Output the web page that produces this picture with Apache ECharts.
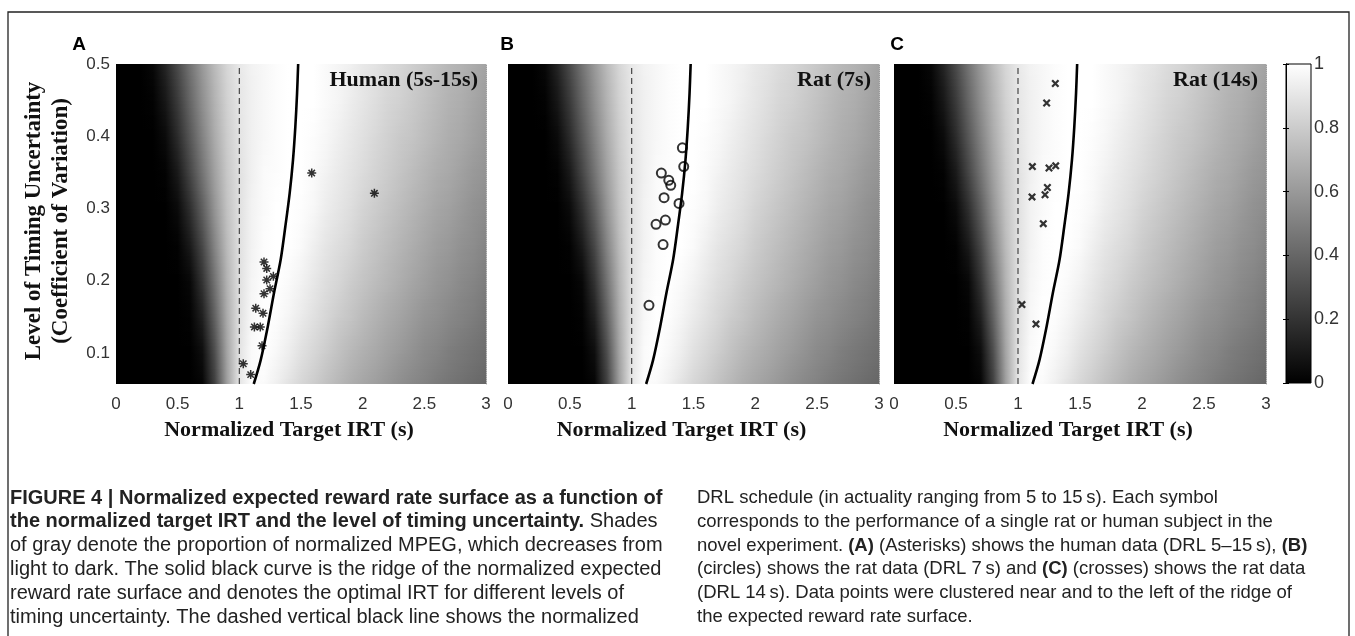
<!DOCTYPE html>
<html><head><meta charset="utf-8">
<script src="https://cdn.jsdelivr.net/npm/echarts@6/dist/echarts.min.js"></script>
<style>html,body{margin:0;padding:0;background:#fff}#c{width:1355px;height:636px}</style>
</head><body><div id="c"></div><script>
// ---- surface grid (normalized target IRT columns, CV rows) ----
const irtGrid = [0,0.1,0.2,0.3,0.4,0.5,0.6,0.7,0.8,0.9,1.0,1.1,1.2,1.3,1.4,1.5,1.6,1.7,1.8,1.9,2.0,2.1,2.2,2.3,2.4,2.5,2.6,2.7,2.8,2.9,3.0];
const cvRows = [0.057,0.1,0.15,0.2,0.25,0.3,0.35,0.4,0.45,0.5];
const surfCV057 = [0,0,0,0,0,0,0,0.02,0.25,0.62,0.90,0.99,0.98,0.94,0.89,0.84,0.80,0.76,0.72,0.68,0.65,0.62,0.59,0.56,0.53,0.51,0.48,0.46,0.44,0.42,0.40];
const surfCV10 = [0,0,0,0,0,0,0,0.05,0.30,0.64,0.89,0.98,1.0,0.97,0.93,0.88,0.84,0.80,0.76,0.72,0.69,0.66,0.63,0.60,0.57,0.54,0.52,0.49,0.47,0.45,0.43];
const surfCV15 = [0,0,0,0,0,0,0.01,0.12,0.38,0.67,0.88,0.97,1.0,0.99,0.96,0.92,0.88,0.84,0.80,0.77,0.73,0.70,0.67,0.64,0.61,0.58,0.56,0.53,0.51,0.49,0.46];
const surfCV20 = [0,0,0,0,0,0,0.03,0.20,0.45,0.70,0.88,0.96,0.99,1.0,0.98,0.95,0.91,0.87,0.84,0.80,0.77,0.74,0.71,0.68,0.65,0.62,0.59,0.57,0.54,0.52,0.49];
const surfCV25 = [0,0,0,0,0,0.01,0.10,0.28,0.52,0.73,0.88,0.95,0.99,1.0,1.0,0.98,0.94,0.90,0.87,0.84,0.80,0.77,0.74,0.71,0.68,0.65,0.62,0.60,0.57,0.55,0.52];
const surfCV30 = [0,0,0,0,0,0.04,0.18,0.37,0.58,0.76,0.88,0.95,0.98,1.0,1.0,0.99,0.97,0.93,0.90,0.87,0.83,0.80,0.77,0.74,0.71,0.68,0.65,0.63,0.60,0.57,0.55];
const surfCV35 = [0,0,0,0,0.01,0.10,0.27,0.45,0.63,0.78,0.88,0.94,0.98,0.99,1.0,1.0,0.98,0.95,0.92,0.89,0.86,0.83,0.80,0.77,0.74,0.71,0.68,0.66,0.63,0.60,0.58];
const surfCV40 = [0,0,0,0,0.04,0.17,0.34,0.51,0.67,0.80,0.89,0.94,0.97,0.99,1.0,1.0,0.99,0.97,0.94,0.91,0.88,0.85,0.82,0.79,0.77,0.74,0.71,0.68,0.66,0.63,0.60];
const surfCV45 = [0,0,0,0.01,0.09,0.23,0.40,0.56,0.70,0.82,0.90,0.94,0.97,0.99,1.0,1.0,1.0,0.98,0.96,0.93,0.90,0.87,0.84,0.82,0.79,0.76,0.73,0.70,0.68,0.65,0.62];
const surfCV50 = [0,0,0,0.03,0.14,0.29,0.45,0.60,0.73,0.84,0.91,0.95,0.97,0.99,1.0,1.0,1.0,0.98,0.96,0.94,0.91,0.89,0.86,0.84,0.81,0.78,0.75,0.72,0.70,0.67,0.64];
const surfaceRows = [surfCV057,surfCV10,surfCV15,surfCV20,surfCV25,surfCV30,surfCV35,surfCV40,surfCV45,surfCV50];

// ---- ridge (optimal IRT) ----
const ridgeIRT = [1.117,1.173,1.230,1.281,1.335,1.373,1.408,1.435,1.454,1.468,1.477];
const ridgeCV  = [0.057,0.090,0.136,0.183,0.229,0.275,0.321,0.367,0.413,0.459,0.500];
const drlIRT = 1.0;

// ---- subjects ----
const humanIRT = [1.587,2.095,1.200,1.222,1.276,1.222,1.249,1.200,1.133,1.192,1.122,1.170,1.184,1.032,1.092];
const humanCV  = [0.349,0.321,0.226,0.217,0.206,0.201,0.189,0.182,0.162,0.155,0.136,0.136,0.110,0.085,0.070];
const rat7IRT = [1.410,1.421,1.240,1.300,1.316,1.262,1.383,1.273,1.197,1.254,1.140];
const rat7CV  = [0.384,0.358,0.349,0.339,0.332,0.315,0.307,0.284,0.278,0.250,0.166];
const rat14IRT = [1.301,1.231,1.116,1.250,1.304,1.237,1.113,1.218,1.204,1.032,1.145];
const rat14CV  = [0.473,0.446,0.358,0.356,0.359,0.329,0.316,0.319,0.279,0.167,0.140];

const xTicks = [0,0.5,1,1.5,2,2.5,3];
const yTicks = [0.1,0.2,0.3,0.4,0.5];
const cbTicks = [0,0.2,0.4,0.6,0.8,1];
const panelTitles = ['Human (5s-15s)','Rat (7s)','Rat (14s)'];
const panelLetters = ['A','B','C'];
const xTitle = 'Normalized Target IRT (s)';
const yTitle = 'Level of Timing Uncertainty\n(Coefficient of Variation)';

const captionLeft = [
 '{b|FIGURE 4 | Normalized expected reward rate surface as a function of}',
 '{b|the normalized target IRT and the level of timing uncertainty.} Shades',
 'of gray denote the proportion of normalized MPEG, which decreases from',
 'light to dark. The solid black curve is the ridge of the normalized expected',
 'reward rate surface and denotes the optimal IRT for different levels of',
 'timing uncertainty. The dashed vertical black line shows the normalized'
];
const captionRight = [
 'DRL schedule (in actuality ranging from 5 to 15\u2009s). Each symbol',
 'corresponds to the performance of a single rat or human subject in the',
 'novel experiment. {b|(A)} (Asterisks) shows the human data (DRL 5\u201315\u2009s), {b|(B)}',
 '(circles) shows the rat data (DRL 7\u2009s) and {b|(C)} (crosses) shows the rat data',
 '(DRL 14\u2009s). Data points were clustered near and to the left of the ridge of',
 'the expected reward rate surface.'
];

// ---- layout ----
const panels = [{left:116,width:370},{left:508,width:371},{left:894,width:372}];
const plotTop = 64, plotH = 320;
const cvMin = 0.057, cvMax = 0.5;

const asteriskPath = 'path://M1 8.5L19 8.5L19 11.5L1 11.5ZM8.5 1L11.5 1L11.5 19L8.5 19ZM4.66 2.54L17.46 15.34L15.34 17.46L2.54 4.66ZM17.46 4.66L4.66 17.46L2.54 15.34L15.34 2.54Z';
const crossPath = 'path://M5.5 2.5L17.5 14.5L14.5 17.5L2.5 5.5ZM17.5 5.5L5.5 17.5L2.5 14.5L14.5 2.5Z';

function surfaceRender(params, api){
  const k = params.dataIndex;
  const rowA = surfaceRows[k], rowB = surfaceRows[k+1];
  const g0 = cvRows[k], g1 = cvRows[k+1];
  const t0 = irtGrid[0], t1 = irtGrid[irtGrid.length-1];
  const xL = api.coord([t0, g0])[0], xR = api.coord([t1, g0])[0];
  const S = 10, children = [];
  for (let i = 0; i < S; i++) {
    const f = (i + 0.5) / S;
    const ya = g0 + (g1 - g0) * i / S, yb = g0 + (g1 - g0) * (i + 1) / S;
    const pBot = api.coord([t0, ya])[1], pTop = api.coord([t0, yb])[1];
    const stops = irtGrid.map((t, j) => {
      const v = rowA[j] * (1 - f) + rowB[j] * f;
      const g = Math.round(Math.max(0, Math.min(1, v)) * 255);
      return {offset: (t - t0) / (t1 - t0), color: 'rgb(' + g + ',' + g + ',' + g + ')'};
    });
    children.push({type:'rect', shape:{x:xL, y:pTop - 0.6, width:xR - xL, height:pBot - pTop + 1.2},
      style:{fill:new echarts.graphic.LinearGradient(0,0,1,0,stops)}});
  }
  return {type:'group', children};
}

const grid = [], xAxis = [], yAxis = [], series = [];
const subjIRT = [humanIRT, rat7IRT, rat14IRT], subjCV = [humanCV, rat7CV, rat14CV];
panels.forEach((p, i) => {
  grid.push({left:p.left, top:plotTop, width:p.width, height:plotH});
  xAxis.push({gridIndex:i, type:'value', min:xTicks[0], max:xTicks[xTicks.length-1], interval:0.5,
    axisLine:{show:false}, axisTick:{show:false}, splitLine:{show:false},
    axisLabel:{fontSize:17, color:'#333', margin:12, fontFamily:'Liberation Sans'}});
  yAxis.push({gridIndex:i, type:'value', min:cvMin, max:cvMax,
    axisLine:{show:false}, axisTick:{show:false}, splitLine:{show:false},
    axisLabel:{show:i === 0, customValues:yTicks, fontSize:17, color:'#333', margin:6, fontFamily:'Liberation Sans',
      formatter:v => v.toFixed(1)}});
  yAxis.push({gridIndex:i, type:'value', min:cvMin, max:cvMax, position:'right', z:10,
    axisLine:{show:true, lineStyle:{color:'#9a9a9a', type:'dotted', width:1}},
    axisTick:{show:false}, axisLabel:{show:false}, splitLine:{show:false}});
  series.push({type:'custom', xAxisIndex:i, yAxisIndex:2*i, renderItem:surfaceRender, clip:true,
    data:cvRows.slice(0, -1).map((c, k) => [k]), silent:true, z:1});
  series.push({type:'line', xAxisIndex:i, yAxisIndex:2*i, showSymbol:false, silent:true, z:3,
    data:[[drlIRT, cvMin],[drlIRT, cvMax]], lineStyle:{color:'#444', width:1.2, type:[6,4]}});
  series.push({type:'line', xAxisIndex:i, yAxisIndex:2*i, showSymbol:false, smooth:0.3, silent:true, z:3,
    data:ridgeIRT.map((t, j) => [t, ridgeCV[j]]), lineStyle:{color:'#000', width:2.6}});
  const sc = {type:'scatter', xAxisIndex:i, yAxisIndex:2*i, z:4, silent:true,
    data:subjIRT[i].map((t, j) => [t, subjCV[i][j]])};
  if (i === 0) { sc.symbol = asteriskPath; sc.symbolSize = 9; sc.itemStyle = {color:'#000'}; }
  if (i === 1) { sc.symbol = 'circle'; sc.symbolSize = 9; sc.itemStyle = {color:'rgba(255,255,255,0)', borderColor:'#000', borderWidth:2}; }
  if (i === 2) { sc.symbol = crossPath; sc.symbolSize = 8; sc.itemStyle = {color:'#000'}; }
  series.push(sc);
});
// colorbar
grid.push({left:1286, top:64, width:25, height:319});
xAxis.push({gridIndex:3, type:'value', min:0, max:1, show:false});
yAxis.push({gridIndex:3, type:'value', min:0, max:1, interval:0.2, position:'right', z:10,
  axisLine:{show:true, lineStyle:{color:'#000', width:1}},
  axisTick:{show:true, inside:true, length:3, lineStyle:{color:'#000'}},
  splitLine:{show:false},
  axisLabel:{fontSize:18, color:'#333', margin:3, fontFamily:'Liberation Sans',
    customValues:cbTicks, formatter:v => (v === 0 || v === 1) ? String(v) : v.toFixed(1)}});
yAxis.push({gridIndex:3, type:'value', min:0, max:1, interval:0.2, position:'left', z:10,
  axisLine:{show:true, lineStyle:{color:'#000', width:1}},
  axisTick:{show:true, inside:true, length:3, lineStyle:{color:'#000'}},
  axisLabel:{show:false}, splitLine:{show:false}});
series.push({type:'custom', xAxisIndex:3, yAxisIndex:6, silent:true, z:1, data:[[0]],
  renderItem:(params, api) => {
    const a = api.coord([0, 1]), b = api.coord([1, 0]);
    return {type:'rect', shape:{x:a[0], y:a[1], width:b[0]-a[0], height:b[1]-a[1]},
      style:{fill:new echarts.graphic.LinearGradient(0,0,0,1,[{offset:0,color:'#fff'},{offset:1,color:'#000'}]), stroke:'#000', lineWidth:1}};
  }});

// ---- text graphics ----
const graphic = [];
graphic.push({type:'rect', z:0, shape:{x:8, y:12, width:1341, height:640}, style:{fill:'none', stroke:'#222', lineWidth:1.3}});
const letterX = [79, 507, 897];
panelLetters.forEach((L, i) => graphic.push({type:'text', z:100, x:letterX[i], y:45,
  style:{text:L, font:'bold 19px "Liberation Sans"', fill:'#000', align:'center', verticalAlign:'middle'}}));
panels.forEach((p, i) => {
  graphic.push({type:'text', z:100, x:p.left + p.width - 8, y:80,
    style:{text:panelTitles[i], font:'bold 22px "Liberation Serif"', fill:'#111', align:'right', verticalAlign:'middle'}});
  graphic.push({type:'text', z:100, x:p.left + p.width/2 - 12, y:430,
    style:{text:xTitle, font:'bold 22px "Liberation Serif"', fill:'#111', align:'center', verticalAlign:'middle'}});
});
graphic.push({type:'text', z:100, x:48, y:221, rotation:Math.PI/2,
  style:{text:yTitle, font:'bold 23px "Liberation Serif"', fill:'#111', align:'center', verticalAlign:'middle', lineHeight:27}});
const capY = [498, 521.8, 545.6, 569.4, 593.2, 617];
const capRichL = {b:{fontWeight:'bold', fontSize:20, fontFamily:'Liberation Sans', fill:'#222'}};
const capRichR = {b:{fontWeight:'bold', fontSize:18.5, fontFamily:'Liberation Sans', fill:'#222'}};
captionLeft.forEach((s, i) => graphic.push({type:'text', z:100, x:10, y:capY[i],
  style:{text:s, fontSize:20, fontFamily:'Liberation Sans', fill:'#222', verticalAlign:'middle', rich:capRichL}}));
captionRight.forEach((s, i) => graphic.push({type:'text', z:100, x:697, y:capY[i],
  style:{text:s, fontSize:18.5, fontFamily:'Liberation Sans', fill:'#222', verticalAlign:'middle', rich:capRichR}}));

const chart = echarts.init(document.getElementById('c'), null, {renderer:'canvas'});
chart.setOption({animation:false, backgroundColor:'#fff', grid, xAxis, yAxis, series, graphic});
</script></body></html>
